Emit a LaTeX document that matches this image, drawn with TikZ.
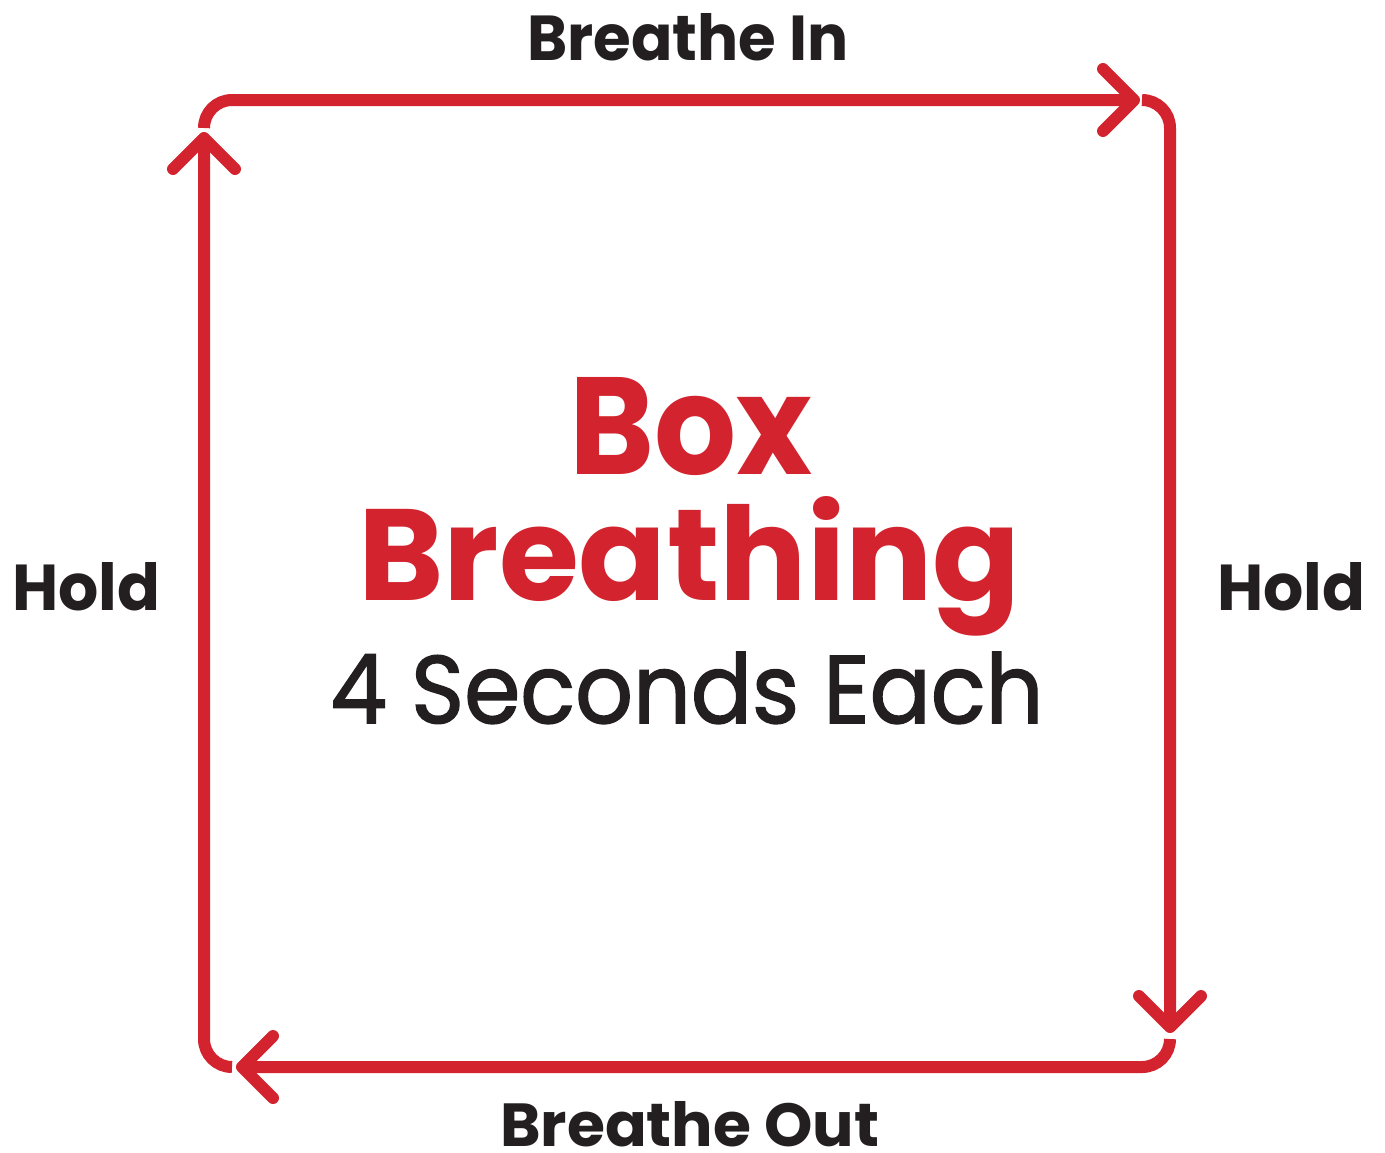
\documentclass[tikz,border=0pt]{standalone}
\usepackage{fontspec}
\setmainfont{Poppins}
\newfontfamily\popmed[FakeBold=1.6]{Poppins}
\usepackage{graphicx}
\definecolor{boxred}{HTML}{D2232E}
\definecolor{ink}{HTML}{231F20}
\begin{document}
\begin{tikzpicture}[x=1pt,y=-1pt,
  side/.style={draw=boxred,line width=12pt},
  tip/.style={draw=boxred,line width=12pt,line cap=round,line join=round},
  lbl/.style={inner sep=0pt,anchor=base west,text=ink,font=\bfseries},
  ttl/.style={inner sep=0pt,anchor=base west,text=boxred,font=\bfseries}]
\useasboundingbox[fill=white] (0,0) rectangle (1385,1152);
% arrow tips
\coordinate (tipTop) at (1134,100);
\coordinate (tipRight) at (1170,1027);
\coordinate (tipBottom) at (242,1067);
\coordinate (tipLeft) at (204,138);
% sides with corner arcs
\draw[side] (204,128) arc[start angle=180,end angle=270,radius=28] -- (tipTop);
\draw[side] (1142,100) arc[start angle=270,end angle=360,radius=28] -- (tipRight);
\draw[side] (1170,1039) arc[start angle=0,end angle=90,radius=28] -- (tipBottom);
\draw[side] (232,1067) arc[start angle=90,end angle=180,radius=28] -- (tipLeft);
% chevrons
\draw[tip] (tipTop) ++(-31,-31) -- (tipTop) -- ++(-31,31);
\draw[tip] (tipRight) ++(-31,-31) -- (tipRight) -- ++(31,-31);
\draw[tip] (tipBottom) ++(31,-31) -- (tipBottom) -- ++(31,31);
\draw[tip] (tipLeft) ++(-31,31) -- (tipLeft) -- ++(31,31);
% labels
\node[lbl] (in) at (527,60) {\resizebox{321pt}{47pt}{Breathe In}};
\node[lbl] (out) at (500,1146) {\resizebox{379pt}{45pt}{Breathe Out}};
\node[lbl] (holdL) at (12,610) {\resizebox{148pt}{48pt}{Hold}};
\node[lbl] (holdR) at (1217,610) {\resizebox{148pt}{48pt}{Hold}};
\node[ttl] (box) at (569,474) {\resizebox{243pt}{97pt}{Box}};
\node[ttl] (breathing) at (358,600) {\resizebox{662pt}{104pt}{Breathing}};
\node[lbl,font=\popmed] (secs) at (330,723) {\resizebox{713pt}{71pt}{4 Seconds Each}};
\end{tikzpicture}
\end{document}
